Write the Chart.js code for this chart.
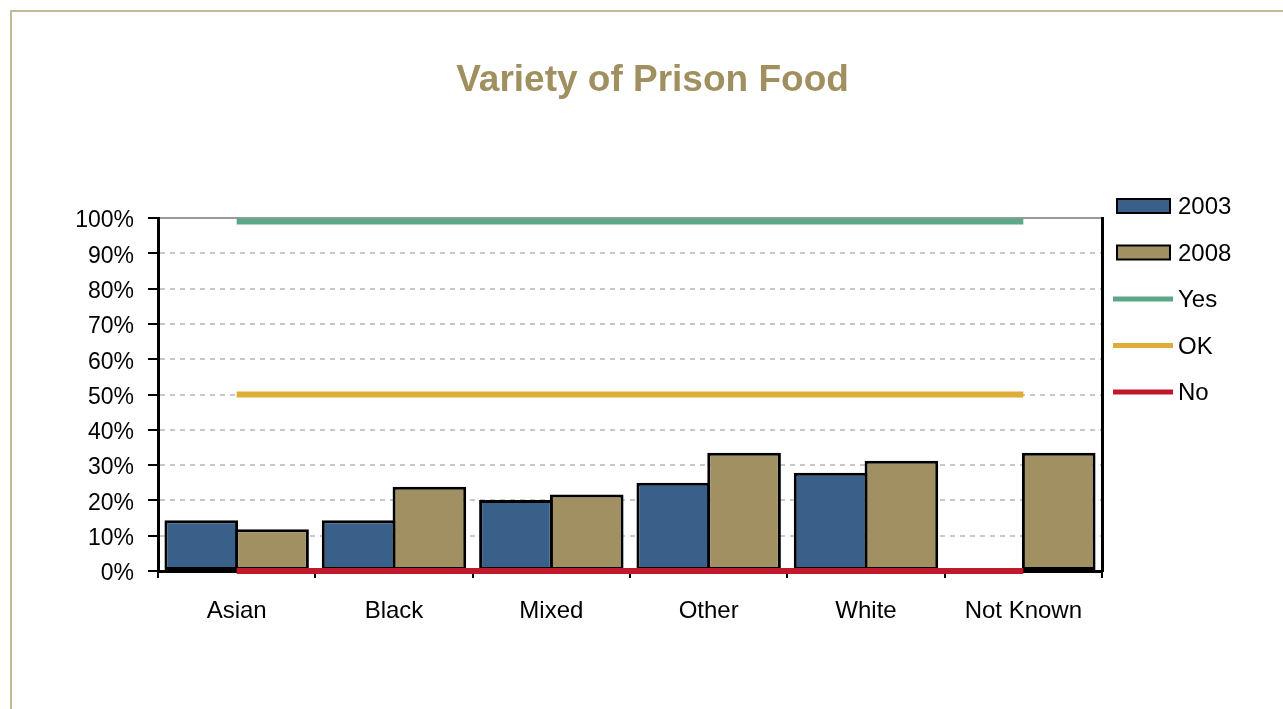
<!DOCTYPE html>
<html>
<head>
<meta charset="utf-8">
<title>Variety of Prison Food</title>
<script src="https://cdn.jsdelivr.net/npm/chart.js@4"></script>
<style>
  html, body { margin: 0; padding: 0; background: #fff; overflow: hidden; }
  #frame {
    position: absolute; left: 10px; top: 10px; width: 1300px; height: 720px;
    border-top: 2px solid #c2b995; border-left: 2px solid #c2b995;
  }
  #chart { position: absolute; left: 0; top: 0; }
</style>
</head>
<body>
<div id="frame"></div>
<canvas id="chart" width="1283" height="709"></canvas>
<script>
const groups = ["Asian", "Black", "Mixed", "Other", "White", "Not Known"];
const y2003 = [14.4, 14.4, 20.1, 25.0, 27.8, null];
const y2008 = [11.8, 23.9, 21.7, 33.5, 31.2, 33.5];
const yesLine = [99, 99, 99, 99, 99, 99];
const okLine = [50, 50, 50, 50, 50, 50];
const noLine = [0, 0, 0, 0, 0, 0];
const pctTicks = [0, 10, 20, 30, 40, 50, 60, 70, 80, 90, 100];

document.addEventListener("DOMContentLoaded", function () {
  const FONT = "'Liberation Sans', Arial, Helvetica, sans-serif";

  // legend drawn at the right of the plot, rects for bars and strokes for lines
  const sideLegend = {
    id: "sideLegend",
    afterDraw(chart) {
      const ctx = chart.ctx;
      const area = chart.chartArea;
      ctx.save();
      ctx.font = "24px " + FONT;
      ctx.textBaseline = "middle";
      ctx.textAlign = "left";
      chart.data.datasets.forEach(function (ds, i) {
        const cy = area.top - 12 + i * 46.5;
        if (ds.type === "line") {
          ctx.strokeStyle = ds.borderColor;
          ctx.lineWidth = 5;
          ctx.beginPath();
          ctx.moveTo(area.right + 11, cy);
          ctx.lineTo(area.right + 71, cy);
          ctx.stroke();
        } else {
          ctx.fillStyle = ds.backgroundColor;
          ctx.fillRect(area.right + 15, cy - 7, 53, 14);
          ctx.strokeStyle = "#000";
          ctx.lineWidth = 2;
          ctx.strokeRect(area.right + 15, cy - 7, 53, 14);
        }
        ctx.fillStyle = "#000";
        ctx.fillText(ds.label, area.right + 76, cy + 1.5);
      });
      ctx.restore();
    }
  };

  const ctx = document.getElementById("chart").getContext("2d");
  new Chart(ctx, {
    data: {
      labels: groups,
      datasets: [
        { type: "bar", label: "2003", data: y2003, backgroundColor: "#386089",
          borderColor: "#000", borderWidth: 3, borderSkipped: false, order: 1 },
        { type: "bar", label: "2008", data: y2008, backgroundColor: "#a09062",
          borderColor: "#000", borderWidth: 3, borderSkipped: false, order: 1 },
        { type: "line", label: "Yes", data: yesLine, borderColor: "#5aa886",
          borderWidth: 6, pointRadius: 0, clip: false, order: 0 },
        { type: "line", label: "OK", data: okLine, borderColor: "#dcae35",
          borderWidth: 6, pointRadius: 0, clip: false, order: 0 },
        { type: "line", label: "No", data: noLine, borderColor: "#c0192e",
          borderWidth: 6, pointRadius: 0, clip: false, order: 0 }
      ]
    },
    options: {
      responsive: false,
      animation: false,
      devicePixelRatio: 1,
      datasets: { bar: { categoryPercentage: 0.9, barPercentage: 1.04 } },
      layout: { padding: { left: 22, right: 0, top: 0, bottom: 78 } },
      plugins: {
        legend: { display: false },
        tooltip: { enabled: false },
        title: {
          display: true,
          text: "Variety of Prison Food",
          color: "#a0905f",
          font: { family: FONT, size: 37, weight: "bold" },
          padding: { top: 59, bottom: 114.6 }
        }
      },
      scales: {
        x: {
          offset: true,
          grid: { offset: true, drawOnChartArea: false, tickLength: 7, tickColor: "#000", lineWidth: 2 },
          border: { color: "#000", width: 3 },
          ticks: { color: "#000", font: { family: FONT, size: 24 }, padding: 19, maxRotation: 0 },
          afterFit(scale) { scale.height = 60; }
        },
        y: {
          min: 0,
          max: 100,
          afterBuildTicks(scale) { scale.ticks = pctTicks.map(v => ({ value: v })); },
          ticks: {
            color: "#000",
            font: { family: FONT, size: 23 },
            padding: 14,
            labelOffset: 3,
            callback: v => v + "%"
          },
          grid: {
            lineWidth: 2,
            tickLength: 10,
            tickColor: "#000",
            tickBorderDash: [],
            color: c => (c.tick && c.tick.value === 100 ? "#9a9a9a" : "#c8c8c8")
          },
          border: {
            color: "#000",
            width: 3,
            dash: c => (c.tick && c.tick.value !== 100 ? [5, 5] : [])
          },
          afterFit(scale) { scale.width = 136; }
        },
        y2: {
          position: "right",
          min: 0,
          max: 100,
          ticks: { display: false },
          grid: { drawOnChartArea: false, drawTicks: false },
          border: { color: "#000", width: 3 },
          afterFit(scale) { scale.width = 181; }
        }
      }
    },
    plugins: [sideLegend]
  });
});
</script>
</body>
</html>
